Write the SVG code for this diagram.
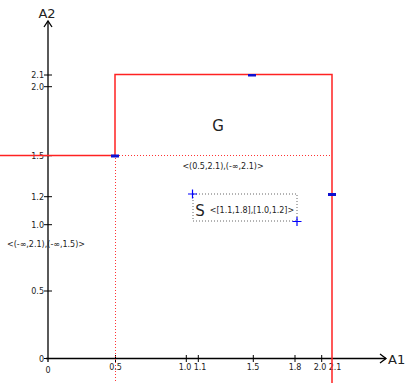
<svg xmlns="http://www.w3.org/2000/svg" width="405" height="383" viewBox="0 0 405 383">
<style>
text{font-family:"DejaVu Sans",sans-serif;fill:#222}
.t{font-size:8px}
.axis{stroke:#000;stroke-width:1.3;fill:none}
.tick{stroke:#000;stroke-width:1}
.red{stroke:#f22;stroke-width:1.5;fill:none}
.rdot{stroke:#f33;stroke-width:1;stroke-dasharray:1 2;fill:none}
.blue{fill:#1010d0}
.cross{stroke:#00f;stroke-width:1.2}
</style>
<rect width="405" height="383" fill="#fff"/>
<g id="axes">
<line class="axis" x1="48" y1="21" x2="48" y2="362" stroke="#555"/>
<polyline class="axis" points="44,27 48,21 52,27"/>
<line class="axis" x1="46" y1="358.5" x2="386" y2="358.5"/>
<polyline class="axis" points="380,354 386,358.5 380,363"/>
<text x="47" y="18" text-anchor="middle" font-size="13">A2</text>
<text x="388" y="364" font-size="13">A1</text>
<g class="tick">
<line x1="44" y1="75" x2="52" y2="75"/>
<line x1="44" y1="86.7" x2="52" y2="86.7"/>
<line x1="44" y1="155.7" x2="52" y2="155.7"/>
<line x1="44" y1="196.7" x2="52" y2="196.7"/>
<line x1="44" y1="224.7" x2="52" y2="224.7"/>
<line x1="44" y1="291" x2="52" y2="291"/>
<line x1="44" y1="358.5" x2="48" y2="358.5"/>
<line x1="115.5" y1="355" x2="115.5" y2="362"/>
<line x1="186.3" y1="355" x2="186.3" y2="362"/>
<line x1="198.3" y1="355" x2="198.3" y2="362"/>
<line x1="253.3" y1="355" x2="253.3" y2="362"/>
<line x1="295" y1="355" x2="295" y2="362"/>
<line x1="321.7" y1="355" x2="321.7" y2="362"/>
</g>
<g class="t" text-anchor="end">
<text x="44" y="78">2.1</text>
<text x="44" y="90">2.0</text>
<text x="44" y="159">1.5</text>
<text x="44" y="200">1.2</text>
<text x="44" y="228">1.0</text>
<text x="44" y="294">0.5</text>
<text x="44" y="362">0</text>
</g>
<g class="t" text-anchor="middle">
<text x="48" y="373">0</text>
<text x="115.5" y="370">0.5</text>
<text x="185" y="370">1.0</text>
<text x="200" y="370">1.1</text>
<text x="253" y="370">1.5</text>
<text x="295" y="370">1.8</text>
<text x="320" y="370">2.0</text>
<text x="335" y="370">2.1</text>
</g>
</g>
<g id="G">
<path class="rdot" d="M119 155.5 H331 M115.5 158 V383"/>
<path class="red" d="M0 155.5 H115 V74.5 H332 V383"/>
<rect class="blue" x="111" y="154.5" width="8" height="3"/>
<rect class="blue" x="248" y="74" width="8" height="2.5"/>
<rect class="blue" x="328" y="193" width="8" height="3"/>
<text x="218" y="131" text-anchor="middle" font-size="15">G</text>
<text class="t" x="223" y="169" text-anchor="middle">&lt;(0.5,2.1),(-∞,2.1)&gt;</text>
<text class="t" x="46" y="247" text-anchor="middle">&lt;(-∞,2.1),(-∞,1.5)&gt;</text>
</g>
<g id="S">
<rect x="193" y="194" width="104" height="27" fill="none" stroke="#666" stroke-width="1" stroke-dasharray="1 2"/>
<path class="cross" d="M188 194 H197 M192.5 189.5 V198.5 M292.5 221.5 H301.5 M297 217 V226"/>
<text x="200" y="216" text-anchor="middle" font-size="15">S</text>
<text class="t" x="252" y="213" text-anchor="middle">&lt;[1.1,1.8],[1.0,1.2]&gt;</text>
</g>
<g id="connectors"/>
</svg>
